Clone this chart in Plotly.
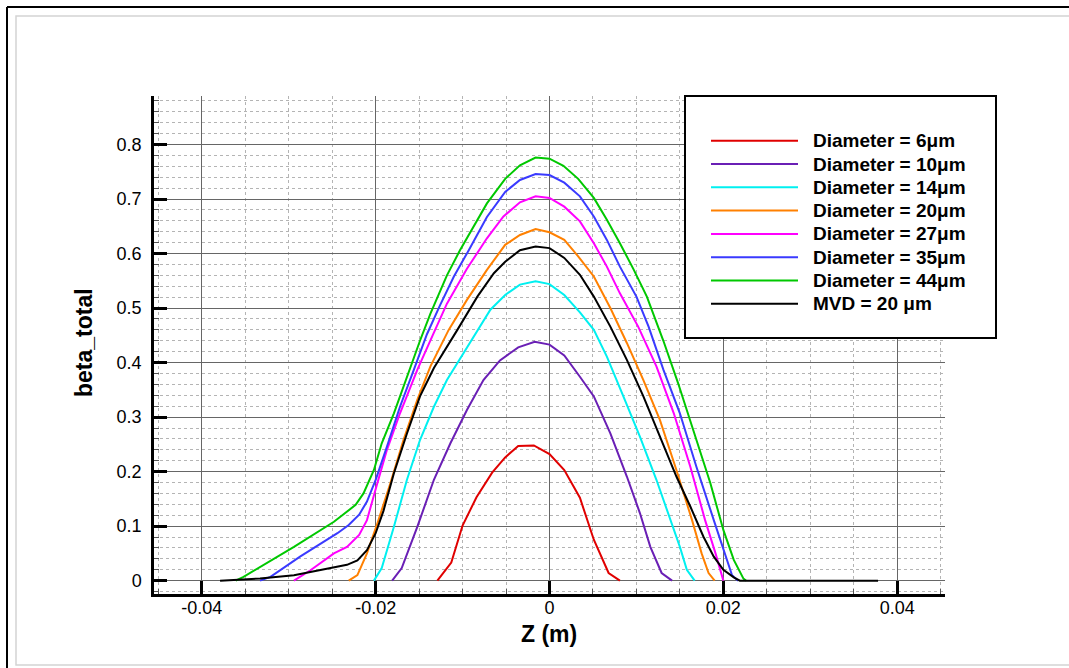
import plotly.graph_objects as go

# ---------------- data ----------------
SERIES_NAMES = ["Diameter = 6μm", "Diameter = 10μm", "Diameter = 14μm", "Diameter = 20μm",
                "Diameter = 27μm", "Diameter = 35μm", "Diameter = 44μm", "MVD = 20 μm"]
SERIES_COLORS = ["#e00000", "#6a1fb5", "#00f0f0", "#ff8000", "#ff00ff", "#3a3aff", "#00c800", "#000000"]

d6_x = [-0.0129, -0.0113, -0.0100, -0.0084, -0.0066, -0.0051, -0.0036, -0.0018, 0.0, 0.0017, 0.0035, 0.0051, 0.0068, 0.0081]
d6_y = [0.0, 0.033, 0.101, 0.153, 0.198, 0.226, 0.247, 0.248, 0.232, 0.203, 0.152, 0.075, 0.014, 0.0]

d10_x = [-0.0181, -0.0170, -0.0152, -0.0133, -0.0114, -0.0095, -0.0076, -0.0057, -0.0036, -0.0017, 0.0, 0.0017,
         0.0035, 0.0051, 0.0070, 0.0089, 0.0104, 0.0116, 0.0129, 0.0141]
d10_y = [0.0, 0.023, 0.099, 0.185, 0.252, 0.313, 0.368, 0.404, 0.428, 0.438, 0.433, 0.413,
         0.374, 0.338, 0.270, 0.191, 0.124, 0.062, 0.014, 0.0]

d14_x = [-0.0202, -0.0193, -0.0179, -0.0164, -0.0149, -0.0133, -0.0118, -0.0083, -0.0068, -0.0051, -0.0034, -0.0016,
         0.0, 0.0017, 0.0035, 0.0051, 0.0066, 0.0085, 0.0104, 0.0123, 0.0139, 0.0150, 0.0158, 0.0167]
d14_y = [0.0, 0.023, 0.099, 0.185, 0.258, 0.319, 0.368, 0.460, 0.497, 0.524, 0.543, 0.549,
         0.544, 0.524, 0.492, 0.460, 0.411, 0.338, 0.264, 0.185, 0.111, 0.062, 0.020, 0.0]

d20_x = [-0.0231, -0.0221, -0.0210, -0.0198, -0.0183, -0.0168, -0.0152, -0.0137, -0.0116, -0.0095, -0.0072, -0.0051,
         -0.0034, -0.0016, 0.0, 0.0017, 0.0033, 0.0051, 0.0070, 0.0089, 0.0108, 0.0127, 0.0146, 0.0164, 0.0175,
         0.0183, 0.0190]
d20_y = [0.0, 0.010, 0.050, 0.105, 0.179, 0.258, 0.332, 0.393, 0.460, 0.515, 0.570, 0.616,
         0.634, 0.645, 0.639, 0.625, 0.595, 0.558, 0.500, 0.436, 0.368, 0.295, 0.203, 0.111, 0.050,
         0.014, 0.0]

d27_x = [-0.0294, -0.0275, -0.0248, -0.0233, -0.0219, -0.0210, -0.0198, -0.0187, -0.0172, -0.0152, -0.0133, -0.0118,
         -0.0095, -0.0072, -0.0053, -0.0034, -0.0016, 0.0, 0.0017, 0.0035, 0.0051, 0.0066, 0.0081, 0.0102,
         0.0123, 0.0143, 0.0162, 0.0179, 0.0191, 0.0196, 0.0200]
d27_y = [0.0, 0.019, 0.050, 0.062, 0.084, 0.111, 0.179, 0.240, 0.307, 0.387, 0.455, 0.508,
         0.572, 0.628, 0.668, 0.694, 0.705, 0.702, 0.686, 0.659, 0.619, 0.576, 0.527, 0.466,
         0.393, 0.307, 0.209, 0.111, 0.050, 0.020, 0.0]

d35_x = [-0.0333, -0.0321, -0.0287, -0.0244, -0.0231, -0.0219, -0.0210, -0.0200, -0.0187, -0.0172, -0.0156, -0.0141,
         -0.0126, -0.0110, -0.0094, -0.0072, -0.0051, -0.0034, -0.0016, 0.0, 0.0017, 0.0035, 0.0051, 0.0066, 0.0081,
         0.0100, 0.0114, 0.0131, 0.0150, 0.0169, 0.0189, 0.0200, 0.0210, 0.0217]
d35_y = [0.0, 0.007, 0.044, 0.087, 0.102, 0.121, 0.145, 0.185, 0.246, 0.319, 0.387, 0.452,
         0.505, 0.558, 0.603, 0.667, 0.713, 0.735, 0.746, 0.744, 0.730, 0.705, 0.668, 0.625, 0.576,
         0.521, 0.466, 0.387, 0.307, 0.209, 0.111, 0.056, 0.010, 0.0]

d44_x = [-0.0361, -0.0352, -0.0294, -0.0248, -0.0223, -0.0214, -0.0202, -0.0193, -0.0179, -0.0164, -0.0149, -0.0137,
         -0.0118, -0.0103, -0.0085, -0.0072, -0.0051, -0.0034, -0.0016, 0.0, 0.0016, 0.0033, 0.0051, 0.0066,
         0.0081, 0.0097, 0.0112, 0.0131, 0.0148, 0.0167, 0.0185, 0.0200, 0.0212, 0.0223, 0.0226]
d44_y = [0.0, 0.007, 0.062, 0.108, 0.139, 0.160, 0.203, 0.252, 0.307, 0.374, 0.440, 0.490,
         0.560, 0.606, 0.656, 0.692, 0.737, 0.762, 0.776, 0.774, 0.761, 0.737, 0.702, 0.662,
         0.619, 0.570, 0.521, 0.440, 0.362, 0.270, 0.179, 0.093, 0.038, 0.004, 0.0]

mvd_x = [-0.0379, -0.0333, -0.0294, -0.0256, -0.0233, -0.0221, -0.0210, -0.0200, -0.0191, -0.0179, -0.0164, -0.0149,
         -0.0133, -0.0106, -0.0083, -0.0064, -0.0051, -0.0034, -0.0016, 0.0, 0.0017, 0.0035, 0.0051, 0.0070,
         0.0089, 0.0108, 0.0127, 0.0146, 0.0162, 0.0177, 0.0189, 0.0200, 0.0212, 0.0219, 0.0378]
mvd_y = [0.0, 0.004, 0.010, 0.021, 0.029, 0.037, 0.056, 0.087, 0.128, 0.197, 0.270, 0.338,
         0.390, 0.460, 0.521, 0.564, 0.585, 0.606, 0.613, 0.610, 0.592, 0.561, 0.521, 0.466,
         0.405, 0.338, 0.264, 0.191, 0.136, 0.081, 0.044, 0.020, 0.006, 0.0, 0.0]

SERIES_X = [d6_x, d10_x, d14_x, d20_x, d27_x, d35_x, d44_x, mvd_x]
SERIES_Y = [d6_y, d10_y, d14_y, d20_y, d27_y, d35_y, d44_y, mvd_y]

X_TICKVALS = [-0.04, -0.02, 0.0, 0.02, 0.04]
X_TICKTEXT = ["-0.04", "-0.02", "0", "0.02", "0.04"]
Y_TICKVALS = [0.0, 0.1, 0.2, 0.3, 0.4, 0.5, 0.6, 0.7, 0.8]
Y_TICKTEXT = ["0", "0.1", "0.2", "0.3", "0.4", "0.5", "0.6", "0.7", "0.8"]

X_TITLE = "Z (m)"
Y_TITLE = "beta_total"

# ---------------- layout geometry (pixels) ----------------
W, H = 1069, 668
ML, MR, MT, MB = 154, 124, 96, 74
PW, PH = W - ML - MR, H - MT - MB


def px(xp):
    return (xp - ML) / PW


def py(yp):
    return (H - MB - yp) / PH


FONT = "Liberation Sans, Arial, Helvetica, sans-serif"

fig = go.Figure()
for xs, ys, name, col in zip(SERIES_X, SERIES_Y, SERIES_NAMES, SERIES_COLORS):
    fig.add_trace(go.Scatter(x=xs, y=ys, mode="lines", name=name,
                             line=dict(color=col, width=2), showlegend=False))

shapes = []
annotations = []

# outer frame
shapes.append(dict(type="rect", xref="paper", yref="paper", x0=px(16), x1=px(1075), y0=py(665), y1=py(16),
                   line=dict(color="#d4d4d4", width=1.5), layer="below"))
shapes.append(dict(type="line", xref="paper", yref="paper", x0=px(7), x1=px(7), y0=py(680), y1=py(7),
                   line=dict(color="black", width=2)))
shapes.append(dict(type="line", xref="paper", yref="paper", x0=px(7), x1=px(1080), y0=py(7), y1=py(7),
                   line=dict(color="black", width=2)))

# legend box
shapes.append(dict(type="rect", xref="paper", yref="paper", x0=px(685), x1=px(996), y0=py(338), y1=py(96),
                   line=dict(color="black", width=2), fillcolor="white", layer="above"))
row0, dy = 140.7, 23.3
for i, (name, col) in enumerate(zip(SERIES_NAMES, SERIES_COLORS)):
    yy = row0 + i * dy
    shapes.append(dict(type="line", xref="paper", yref="paper", x0=px(711), x1=px(798), y0=py(yy), y1=py(yy),
                       line=dict(color=col, width=2), layer="above"))
    annotations.append(dict(text="<b>" + name + "</b>", xref="paper", yref="paper", x=px(811), y=py(yy),
                            xanchor="left", yanchor="middle", showarrow=False,
                            font=dict(family=FONT, size=19, color="black")))

# axis titles
annotations.append(dict(text="<b>" + X_TITLE + "</b>", xref="paper", yref="paper", x=px(549), y=py(634),
                        xanchor="center", yanchor="middle", showarrow=False,
                        font=dict(family=FONT, size=23, color="black")))
annotations.append(dict(text="<b>" + Y_TITLE + "</b>", xref="paper", yref="paper", x=px(84), y=py(343),
                        xanchor="center", yanchor="middle", showarrow=False, textangle=-90,
                        font=dict(family=FONT, size=23, color="black")))

fig.update_layout(
    width=W, height=H,
    margin=dict(l=ML, r=MR, t=MT, b=MB, pad=0),
    paper_bgcolor="white", plot_bgcolor="white",
    font=dict(family=FONT, size=18, color="black"),
    shapes=shapes, annotations=annotations,
    showlegend=False,
)

fig.update_xaxes(
    range=[-0.0455, 0.0455], tickmode="array", tickvals=X_TICKVALS, ticktext=X_TICKTEXT,
    showgrid=True, gridcolor="#666666", gridwidth=1,
    zeroline=False, showline=True, linecolor="black", linewidth=2.5, mirror=False,
    ticks="inside", ticklen=13, tickwidth=2.5, tickcolor="black", ticklabelstandoff=-4,
    tickfont=dict(family=FONT, size=18, color="black"),
    minor=dict(dtick=0.005, tick0=0, showgrid=True, gridcolor="#b4b4b4", griddash="dot", gridwidth=1,
               ticks="inside", ticklen=5, tickwidth=1, tickcolor="#555555"),
)
fig.update_yaxes(
    range=[-0.0245, 0.889], tickmode="array", tickvals=Y_TICKVALS, ticktext=Y_TICKTEXT,
    showgrid=True, gridcolor="#666666", gridwidth=1,
    zeroline=False, showline=True, linecolor="black", linewidth=2.5, mirror=False,
    ticks="inside", ticklen=13, tickwidth=2.5, tickcolor="black", ticklabelstandoff=6,
    tickfont=dict(family=FONT, size=18, color="black"),
    minor=dict(dtick=0.02, tick0=0, showgrid=True, gridcolor="#b4b4b4", griddash="dot", gridwidth=1,
               ticks="inside", ticklen=5, tickwidth=1, tickcolor="#555555"),
)

fig.write_html("out.html")
